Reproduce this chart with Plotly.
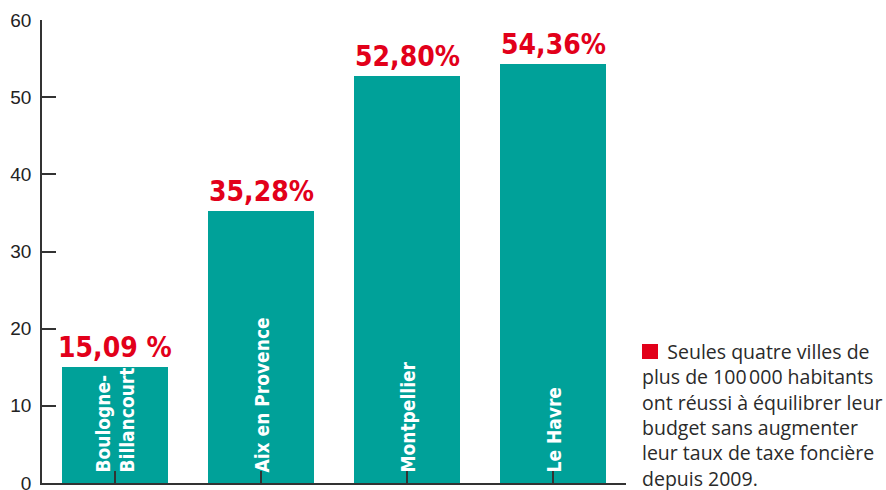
import plotly.graph_objects as go

cities = ["Boulogne-<br>Billancourt", "Aix en Provence", "Montpellier", "Le Havre"]
values = [15.09, 35.28, 52.80, 54.36]
value_labels = ["15,09 %", "35,28%", "52,80%", "54,36%"]
y_ticks = [0, 10, 20, 30, 40, 50, 60]
caption = ("Seules quatre villes de<br>plus de 100\u202f000 habitants<br>ont réussi à équilibrer leur"
           "<br>budget sans augmenter<br>leur taux de taxe foncière<br>depuis 2009.")

TEAL = "#00a199"
RED = "#e2001a"
COND = "DejaVu Sans Condensed, Liberation Sans Narrow, Arial Narrow, sans-serif"

xs = list(range(len(cities)))
fig = go.Figure(go.Bar(x=xs, y=values, marker=dict(color=TEAL, line=dict(width=0)), width=0.726))

L, R, T, B = 42, 886 - 626, 20, 7
W, H = 886, 490
pw, ph = W - L - R, H - T - B

for i, (v, lab, c) in enumerate(zip(values, value_labels, cities)):
    fig.add_annotation(x=i, y=v, xref="x", yref="y", text="<b>%s</b>" % lab, showarrow=False,
                       yanchor="bottom", yshift=1,
                       font=dict(family=COND, size=28, color=RED))
    fig.add_annotation(x=i, y=0, xref="x", yref="y", text="<b>%s</b>" % c, showarrow=False,
                       textangle=-90, yanchor="bottom", xanchor="center", yshift=8, align="left",
                       font=dict(family=COND, size=19, color="white"))

def px2x(p):
    return (p - L) / pw

def px2y(p):
    return (H - B - p) / ph

fig.add_shape(type="rect", xref="paper", yref="paper", x0=px2x(642), x1=px2x(658),
              y0=px2y(359), y1=px2y(344), fillcolor=RED, line=dict(width=0))
fig.add_annotation(xref="paper", yref="paper", x=px2x(640), y=px2y(336), xanchor="left", yanchor="top",
                   text="\u00a0\u00a0\u00a0\u00a0\u00a0" + caption, showarrow=False, align="left",
                   font=dict(family="Open Sans, Liberation Sans, Arial, sans-serif", size=19.5,
                             color="#2a2a2a"))

fig.update_layout(
    width=W, height=H, margin=dict(l=L, r=R, t=T, b=B, autoexpand=False),
    plot_bgcolor="white", paper_bgcolor="white", showlegend=False, bargap=0,
    xaxis=dict(range=[-0.5, 3.5], tickmode="array", tickvals=xs, ticktext=[""] * 4,
               ticks="inside", tickson="boundaries", ticklen=12, tickwidth=1.5, tickcolor="#333",
               showline=True, linecolor="#333", linewidth=1.5, showgrid=False, zeroline=False,
               fixedrange=True, automargin=False),
    yaxis=dict(range=[0, 60], tickvals=y_ticks, ticks="inside", ticklen=14, tickwidth=1.5,
               tickcolor="#333", showline=True, linecolor="#333", linewidth=1.5, showgrid=False,
               zeroline=False, automargin=False, ticklabeloverflow="allow",
               tickfont=dict(family="Liberation Sans, Arial, sans-serif", size=19, color="#222"),
               ticklabelstandoff=5),
)

fig.write_html("out.html", config={"displayModeBar": False},
               post_script="document.body.style.margin='0';document.body.style.overflow='hidden';")
